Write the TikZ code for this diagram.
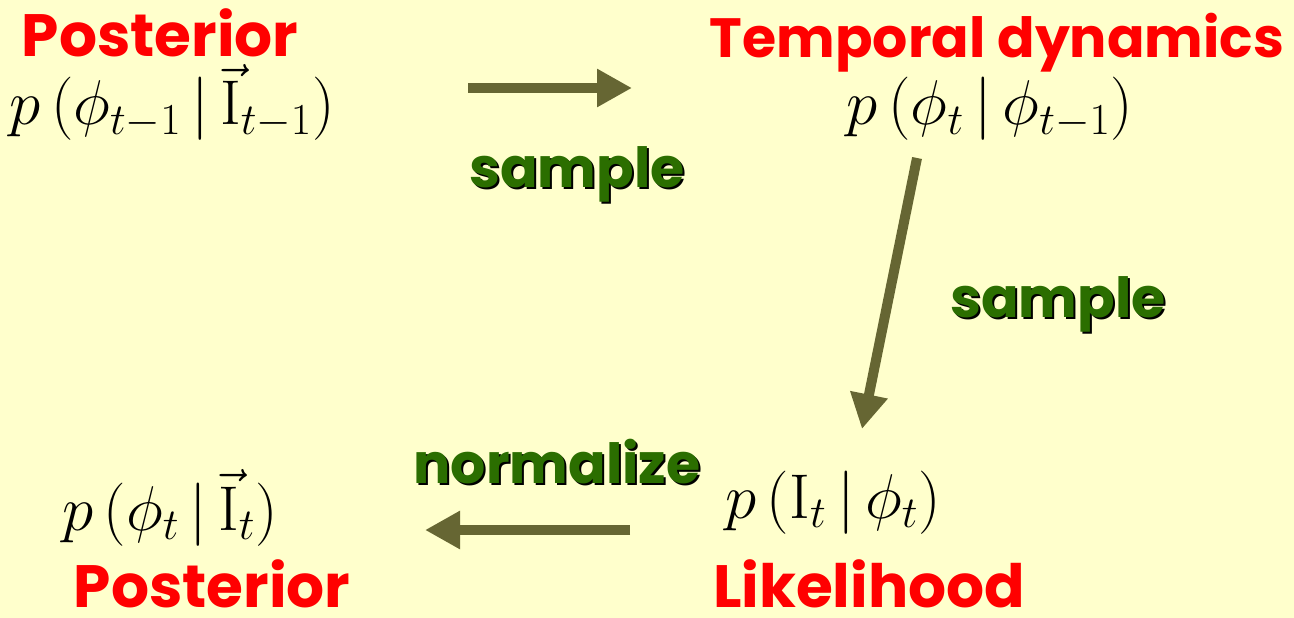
\documentclass[tikz,border=0pt]{standalone}
\usepackage{fix-cm}
\usepackage{fontspec}
\newfontfamily\handfont{Poppins}
\usetikzlibrary{arrows.meta,positioning}
\definecolor{PaleYellow}{HTML}{FFFFCC}
\definecolor{TitleRed}{HTML}{FF0000}
\definecolor{ActGreen}{HTML}{2B6E00}
\definecolor{Olive}{HTML}{666633}

\begin{document}
\begin{tikzpicture}[x=0.02cm, y=-0.02cm,
  ttl/.style={anchor=base, inner sep=0pt, text=TitleRed,
              font=\handfont\bfseries\fontsize{34}{38}\selectfont},
  act/.style={anchor=base, inner sep=0pt, text=ActGreen,
              font=\handfont\bfseries\fontsize{31.5}{36}\selectfont},
  shd/.style={act, text=black},
  dist/.style={anchor=base, inner sep=0pt, font=\fontsize{36}{40}\selectfont},
  flow/.style={line width=0.2cm, color=Olive,
               -{Triangle[length=0.7cm, width=0.72cm]}}
]
  \fill[PaleYellow] (0,0) rectangle (1294,618);
  \useasboundingbox (0,0) rectangle (1294,618);

  % distributions
  \node[dist] (post1) at (172,125) {$p\,(\phi_{t-1}\,|\,\vec{\mathrm{I}}_{t-1})$};
  \node[dist] (temp)  at (990,125) {$p\,(\phi_{t}\,|\,\phi_{t-1})$};
  \node[dist] (lik)   at (833,518) {$p\,(\mathrm{I}_{t}\,|\,\phi_{t})$};
  \node[dist] (post2) at (170,530) {$p\,(\phi_{t}\,|\,\vec{\mathrm{I}}_{t})$};

  % titles
  \node[ttl] (post1t) at (160,57)  {Posterior};
  \node[ttl, font=\handfont\bfseries\fontsize{31.5}{36}\selectfont]
    (tempt) at (997,58) {Temporal dynamics};
  \node[ttl] (likt)   at (869,607) {Likelihood};
  \node[ttl] (post2t) at (212,607) {Posterior};

  % arrow ends
  \coordinate (a1s) at (468,88);
  \coordinate (a1e) at (632,88);
  \coordinate (a2s) at (917,158);
  \coordinate (a2e) at (862,429);
  \coordinate (a3s) at (630,530);
  \coordinate (a3e) at (425,530);

  \draw[flow] (a1s) -- (a1e);
  \draw[flow] (a2s) -- (a2e);
  \draw[flow] (a3s) -- (a3e);

  % step labels, with shadow
  \node[shd] at (579,190) {sample};
  \node[act] (samp1) at (577,188) {sample};
  \node[shd] at (1060,319) {sample};
  \node[act] (samp2) at (1058,317) {sample};
  \node[shd] at (559,485) {normalize};
  \node[act] (norm) at (557,483) {normalize};
\end{tikzpicture}
\end{document}
